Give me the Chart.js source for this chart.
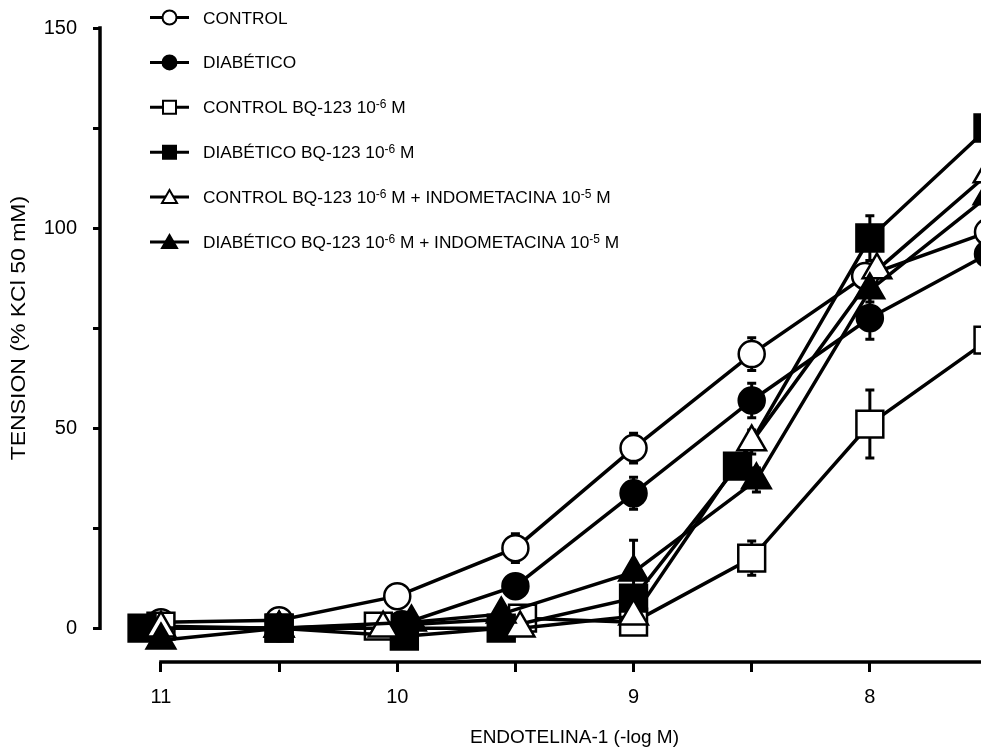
<!DOCTYPE html>
<html>
<head>
<meta charset="utf-8">
<title>Endotelina-1</title>
<script src="https://cdn.jsdelivr.net/npm/chart.js@4.4.1/dist/chart.umd.min.js"></script>
<style>
  html, body { margin: 0; padding: 0; overflow: hidden; background: #fff; }
  #wrap { width: 1010px; height: 749px; }
</style>
</head>
<body>
<div id="wrap"><canvas id="chart" width="1010" height="749"></canvas></div>
<script>
// ET-1 concentration (-log M); points are a little staggered in the figure
const xControl       = [11, 10.5, 10, 9.5, 9, 8.5, 8.02, 7.5];
const xDiab          = [11, 10.5, 9.98, 9.5, 9, 8.5, 8, 7.5];
const xControlBQ     = [11, 10.5, 10.08, 9.47, 9, 8.5, 8, 7.5];
const xDiabBQ        = [11.08, 10.5, 9.97, 9.56, 9, 8.56, 8, 7.5];
const xControlBQIndo = [11, 10.5, 10.06, 9.48, 9, 8.5, 7.97, 7.5];
const xDiabBQIndo    = [11, 10.5, 9.94, 9.56, 9, 8.48, 8, 7.5];

// tension, % of KCl 50 mM
const yControl       = [1.5, 2, 8, 20, 45, 68.5, 88, 99];
const yDiab          = [0, 0, 1, 10.5, 33.7, 56.9, 77.5, 93.5];
const yControlBQ     = [0.5, 0, 0.5, 2.5, 1.5, 17.5, 51, 72];
const yDiabBQ        = [0, 0, -2, 0, 7.5, 40.5, 97.5, 125];
const yControlBQIndo = [0, 0, 0, 0, 3, 46.5, 89.5, 113.5];
const yDiabBQIndo    = [-3, 0, 1.5, 3.5, 14, 37, 84.5, 108];

// SEM
const eControl       = [0.5, 0.5, 1, 3.6, 3.7, 4.1, 2, 2];
const eDiab          = [0.5, 0.5, 1, 2.5, 4, 4.3, 5.3, 2];
const eControlBQ     = [0.5, 0.5, 0.5, 1, 1, 4.3, 8.5, 3];
const eDiabBQ        = [0.5, 0.5, 1, 0.5, 2, 3, 5.6, 3];
const eControlBQIndo = [0.5, 0.5, 0.5, 0.5, 1, 3, 2, 3];
const eDiabBQIndo    = [0.5, 0.5, 1, 1, 8, 3, 3, 3];

const seriesNames = [
  'CONTROL',
  'DIABÉTICO',
  'CONTROL BQ-123 10^-6 M',
  'DIABÉTICO BQ-123 10^-6 M',
  'CONTROL BQ-123 10^-6 M + INDOMETACINA 10^-5 M',
  'DIABÉTICO BQ-123 10^-6 M + INDOMETACINA 10^-5 M'
];

const xTicks = [11, 10.5, 10, 9.5, 9, 8.5, 8, 7.5];
const yTicks = [0, 25, 50, 75, 100, 125, 150];
const xTitle = 'ENDOTELINA-1 (-log M)';
const yTitle = 'TENSION (% KCl 50 mM)';

const FONT = "'Liberation Sans', Arial, sans-serif";

const xs = [xControl, xDiab, xControlBQ, xDiabBQ, xControlBQIndo, xDiabBQIndo];
const ys = [yControl, yDiab, yControlBQ, yDiabBQ, yControlBQIndo, yDiabBQIndo];
const errs = [eControl, eDiab, eControlBQ, eDiabBQ, eControlBQIndo, eDiabBQIndo];
const shapes = ['circle', 'circle', 'rect', 'rect', 'triangle', 'triangle'];
const filled = [false, true, false, true, false, true];
const radius = { circle: 13, rect: 19, triangle: 16.5 };

const datasets = ys.map((vals, i) => ({
  label: seriesNames[i].replace(/\^/g, ''),
  data: vals.map((v, j) => ({ x: xs[i][j], y: v })),
  borderColor: '#000',
  borderWidth: 3.5,
  tension: 0,
  pointStyle: shapes[i],
  pointRadius: radius[shapes[i]],
  pointBorderWidth: 2.5,
  pointBorderColor: '#000',
  pointBackgroundColor: filled[i] ? '#000' : '#fff',
  clip: false,
  order: ys.length - i
}));

// axis lines (y only spans 0..150, x starts at 11) and titles
const axesPlugin = {
  id: 'axesLines',
  afterDraw(chart) {
    const { ctx, scales: { x, y } } = chart;
    ctx.save();
    ctx.strokeStyle = '#000';
    ctx.lineWidth = 3.5;
    ctx.lineCap = 'square';
    ctx.beginPath();
    ctx.moveTo(chart.chartArea.left, y.getPixelForValue(150));
    ctx.lineTo(chart.chartArea.left, y.getPixelForValue(0));
    ctx.moveTo(x.getPixelForValue(11), chart.chartArea.bottom);
    ctx.lineTo(x.getPixelForValue(7.5) + 30, chart.chartArea.bottom);
    ctx.stroke();

    ctx.fillStyle = '#000';
    ctx.textAlign = 'center';
    ctx.textBaseline = 'middle';
    ctx.font = '19px ' + FONT;
    ctx.fillText(xTitle, (x.getPixelForValue(11) + x.getPixelForValue(7.5)) / 2, 738);
    ctx.translate(19, (y.getPixelForValue(0) + y.getPixelForValue(150)) / 2);
    ctx.rotate(-Math.PI / 2);
    ctx.scale(1.15, 1);
    ctx.font = '20px ' + FONT;
    ctx.fillText(yTitle, 0, 0);
    ctx.restore();
  }
};

const errorBarPlugin = {
  id: 'errorBars',
  beforeDatasetsDraw(chart) {
    const { ctx, scales: { x, y } } = chart;
    ctx.save();
    ctx.strokeStyle = '#000';
    ctx.lineWidth = 3;
    chart.data.datasets.forEach((ds, i) => {
      ds.data.forEach((p, j) => {
        const e = errs[i][j];
        if (!e) return;
        const px = x.getPixelForValue(p.x);
        const top = y.getPixelForValue(p.y + e);
        const bot = y.getPixelForValue(p.y - e);
        ctx.beginPath();
        ctx.moveTo(px, top);
        ctx.lineTo(px, bot);
        ctx.moveTo(px - 4.5, top);
        ctx.lineTo(px + 4.5, top);
        ctx.moveTo(px - 4.5, bot);
        ctx.lineTo(px + 4.5, bot);
        ctx.stroke();
      });
    });
    ctx.restore();
  }
};

function drawMarker(ctx, shape, cx, cy, fill) {
  ctx.beginPath();
  if (shape === 'circle') {
    ctx.arc(cx, cy, 7, 0, Math.PI * 2);
  } else if (shape === 'rect') {
    ctx.rect(cx - 6.5, cy - 6.5, 13, 13);
  } else {
    ctx.moveTo(cx, cy - 7);
    ctx.lineTo(cx + 7.5, cy + 6);
    ctx.lineTo(cx - 7.5, cy + 6);
    ctx.closePath();
  }
  ctx.fillStyle = fill ? '#000' : '#fff';
  ctx.fill();
  ctx.lineWidth = 2;
  ctx.stroke();
}

const legendPlugin = {
  id: 'sigmaLegend',
  afterDraw(chart) {
    const ctx = chart.ctx;
    ctx.save();
    ctx.strokeStyle = '#000';
    seriesNames.forEach((name, i) => {
      const ry = 17.5 + 44.9 * i;
      ctx.lineWidth = 3;
      ctx.beginPath();
      ctx.moveTo(150, ry);
      ctx.lineTo(189, ry);
      ctx.stroke();
      drawMarker(ctx, shapes[i], 169.5, ry, filled[i]);

      ctx.fillStyle = '#000';
      ctx.textAlign = 'left';
      ctx.textBaseline = 'alphabetic';
      let tx = 203;
      name.split(/(\^\S+)/).forEach(part => {
        if (!part) return;
        const sup = part[0] === '^';
        const txt = sup ? part.slice(1) : part;
        ctx.font = (sup ? '12px ' : '17.3px ') + FONT;
        ctx.fillText(txt, tx, sup ? ry + 1 : ry + 6);
        tx += ctx.measureText(txt).width;
      });
    });
    ctx.restore();
  }
};

const tickFont = { family: FONT, size: 20 };

new Chart(document.getElementById('chart').getContext('2d'), {
  type: 'line',
  data: { datasets },
  options: {
    responsive: false,
    animation: false,
    events: [],
    layout: { padding: { top: 25, right: 22, left: 0, bottom: 0 } },
    plugins: { legend: { display: false }, tooltip: { enabled: false } },
    scales: {
      x: {
        type: 'linear',
        reverse: true,
        min: 7.5,
        max: 11.258,
        afterFit: s => { s.height = 87; },
        afterBuildTicks: s => { s.ticks = xTicks.map(v => ({ value: v })); },
        grid: { display: true, drawOnChartArea: false, tickLength: 10, tickWidth: 3, tickColor: '#000' },
        border: { display: false },
        ticks: {
          autoSkip: false, maxRotation: 0, padding: 13, color: '#000', font: tickFont,
          callback: v => Number.isInteger(v) ? String(v) : ''
        }
      },
      y: {
        min: -8.46,
        max: 150,
        afterFit: s => { s.width = 100; },
        afterBuildTicks: s => { s.ticks = yTicks.map(v => ({ value: v })); },
        grid: { display: true, drawOnChartArea: false, tickLength: 7, tickWidth: 3, tickColor: '#000' },
        border: { display: false },
        ticks: {
          autoSkip: false, padding: 16, color: '#000', font: tickFont,
          callback: v => v % 50 === 0 ? String(v) : ''
        }
      }
    }
  },
  plugins: [axesPlugin, errorBarPlugin, legendPlugin]
});
</script>
</body>
</html>
